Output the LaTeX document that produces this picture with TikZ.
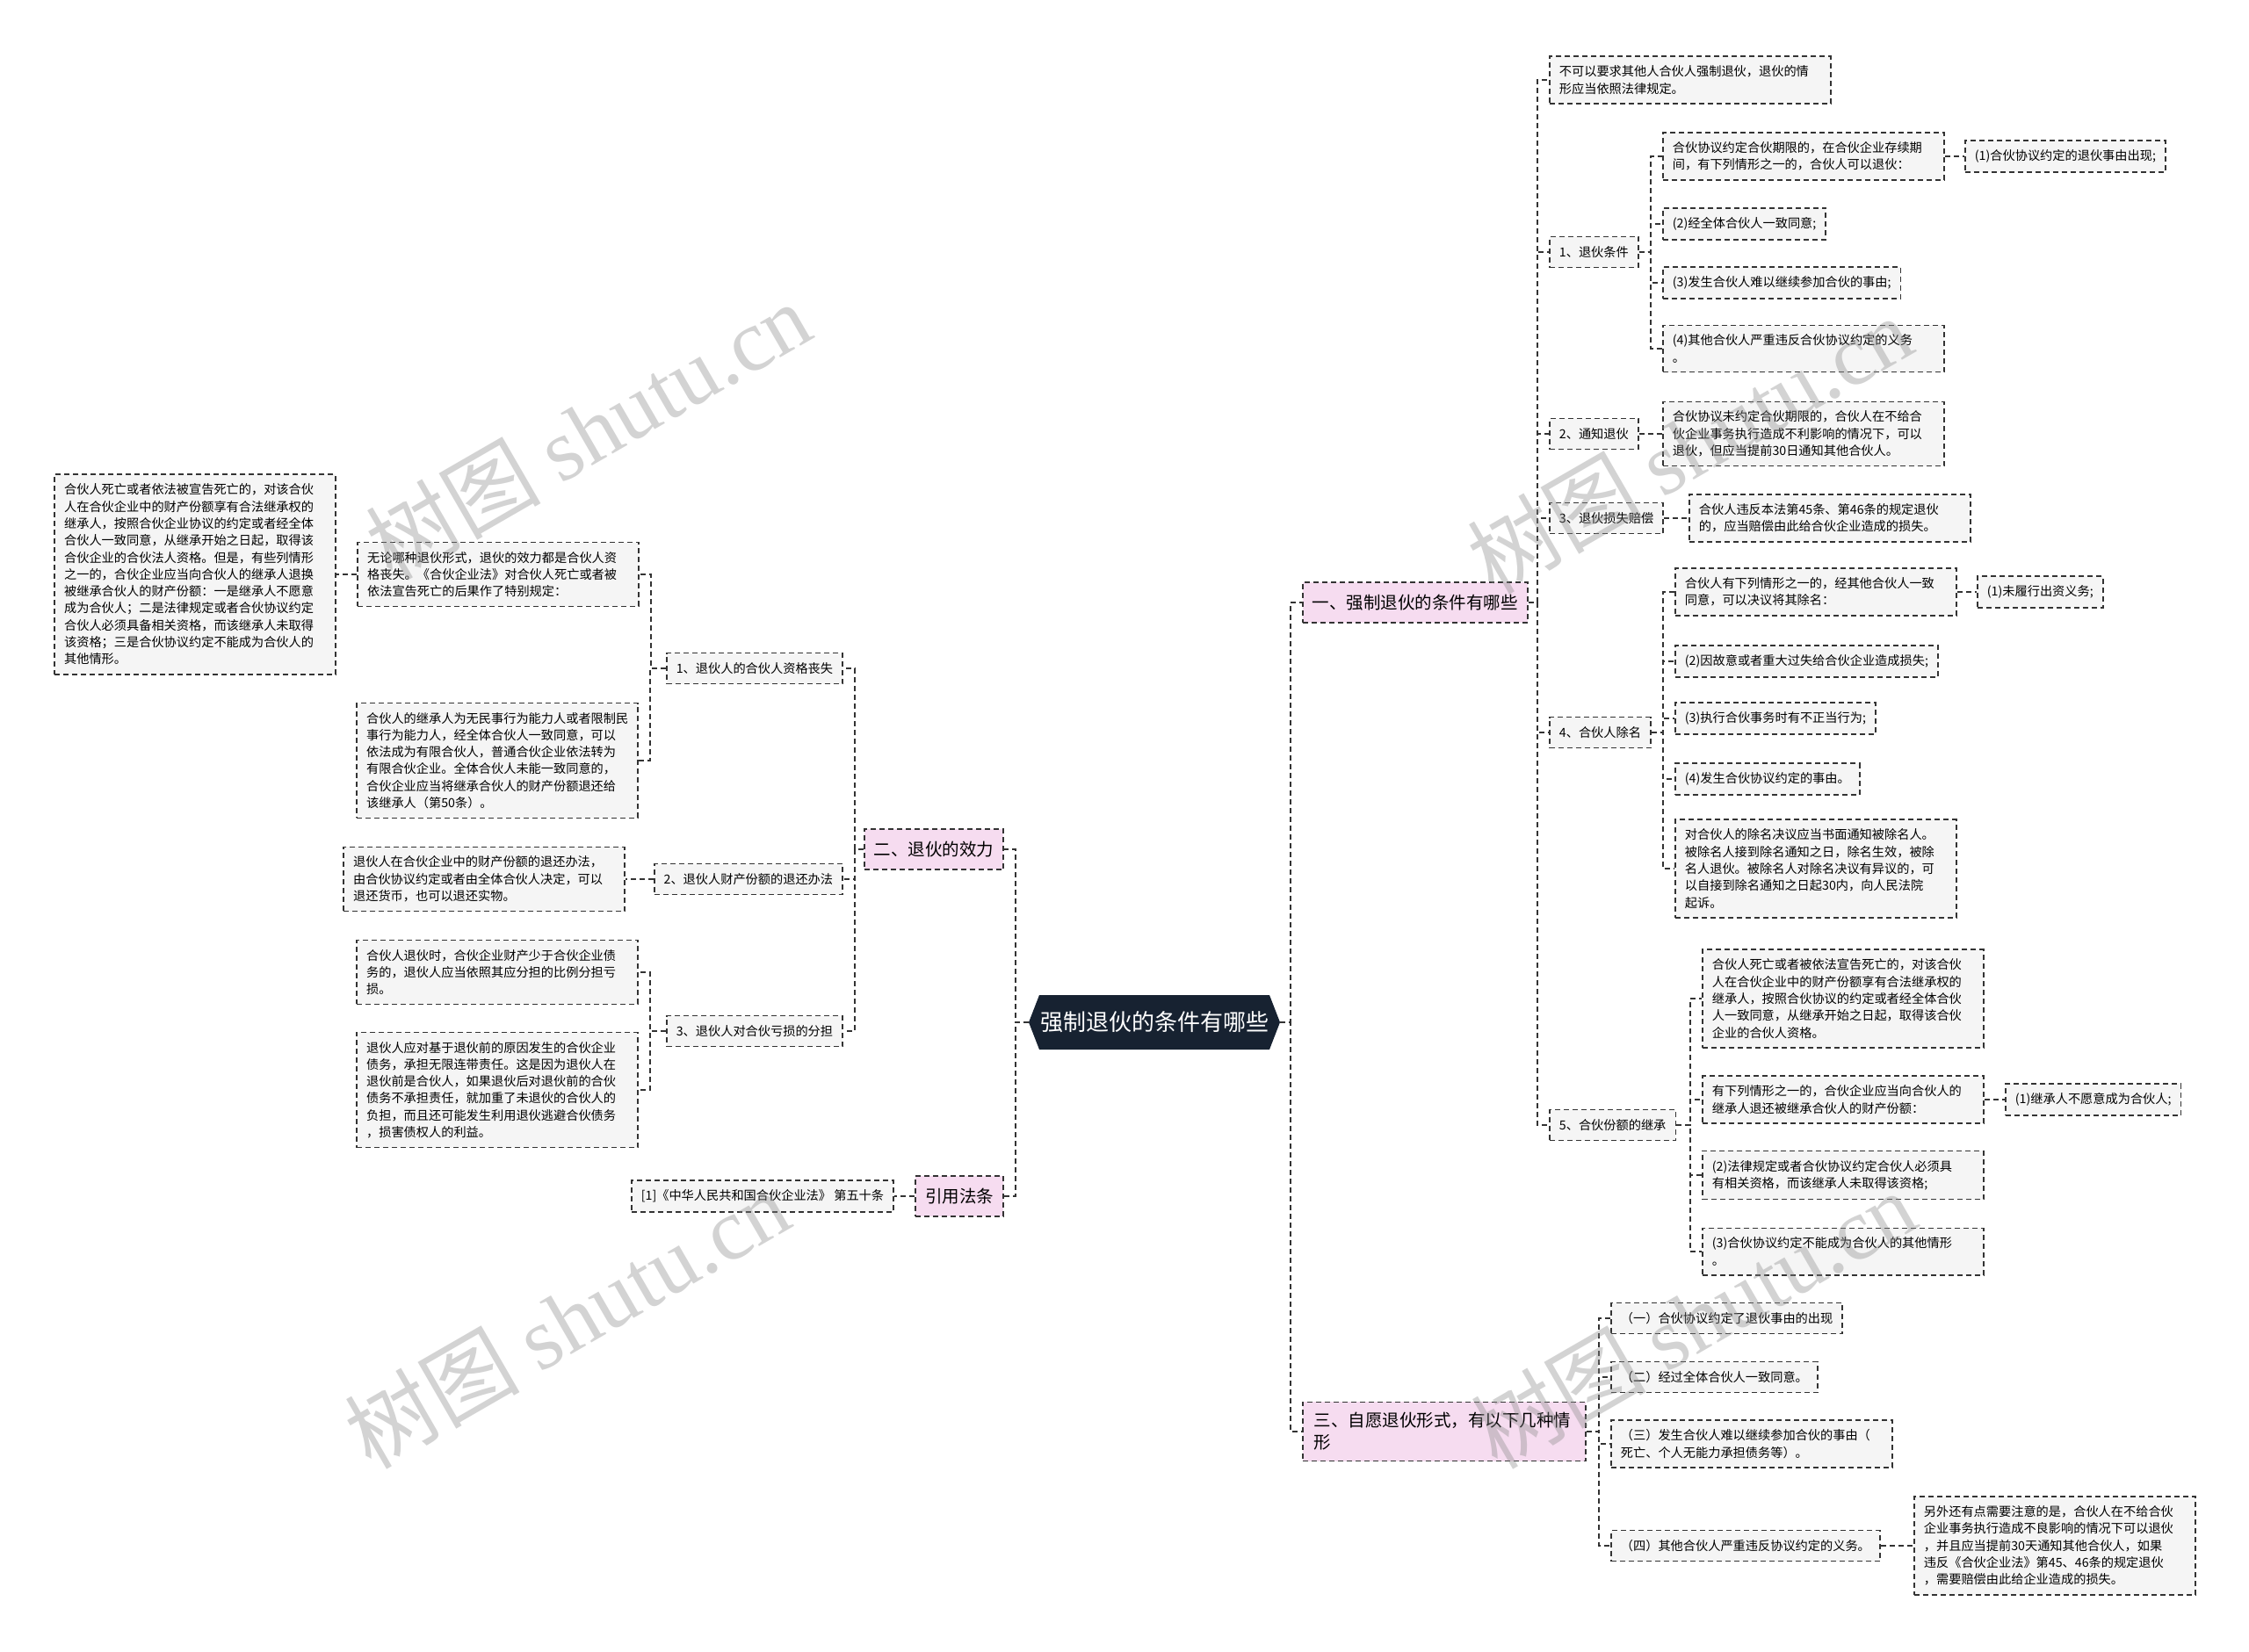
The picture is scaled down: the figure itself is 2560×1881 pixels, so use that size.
\documentclass[tikz,border=0pt]{standalone}
\usepackage{fontspec}
\setmainfont{Noto Sans CJK SC}
\newfontfamily\wmserif{Liberation Serif}
\usetikzlibrary{calc}
\definecolor{bordc}{RGB}{51,51,51}
\definecolor{leaffill}{RGB}{245,245,245}
\definecolor{pinkfill}{RGB}{246,220,240}
\definecolor{navy}{RGB}{23,34,49}
\definecolor{wmgray}{RGB}{140,140,140}
\tikzset{
 dashline/.style={draw=bordc, line width=1.8pt, dash pattern=on 6pt off 4pt},
 leaf/.style={dashline, fill=leaffill, font=\fontsize{14.2}{19.3}\selectfont, align=left, inner xsep=11pt, inner ysep=10.5pt, minimum height=35pt},
 para/.style={leaf, text width=298pt},
 rleaf/.style={leaf, anchor=west},
 lleaf/.style={leaf, anchor=east},
 rpara/.style={para, anchor=west},
 lpara/.style={para, anchor=east},
 branch/.style={dashline, fill=pinkfill, font=\fontsize{19.5}{25}\selectfont, align=left, inner xsep=11pt, inner ysep=12pt, minimum height=46pt},
 conn/.style={dashline},
 wm/.style={text=wmgray, opacity=0.38, rotate=30, font=\fontsize{100}{100}\selectfont, inner sep=0pt}
}
\newcommand{\myrc}[2]{\draw[conn] (#1.east) -- ($(#1.east -| #2.west)+(-13,0)$) |- (#2.west);}
\newcommand{\mylc}[2]{\draw[conn] (#1.west) -- ($(#1.west -| #2.east)+(13,0)$) |- (#2.east);}
\newcommand{\myhr}[2]{\draw[conn] (#1.east) -- (#2.west);}
\newcommand{\myhl}[2]{\draw[conn] (#1.west) -- (#2.east);}
\begin{document}
\begin{tikzpicture}[x=1pt,y=-1pt]
\useasboundingbox (0,0) rectangle (2560,1881);
\fill[white] (0,0) rectangle (2560,1881);

% root
\fill[navy] (1171,1164) -- (1183,1133) -- (1445,1133) -- (1457,1164) -- (1445,1195) -- (1183,1195) -- cycle;
\node[font=\fontsize{26}{30}\selectfont, text=white, minimum width=286pt, minimum height=62pt, inner sep=0pt] (root) at (1314,1164) {强制退伙的条件有哪些};

% right branches
\node[branch, anchor=west] (one) at (1482,686) {一、强制退伙的条件有哪些};
\node[branch, anchor=west, text width=296pt, inner xsep=13pt] (three) at (1482,1630) {三、自愿退伙形式，有以下几种情\\形};

\node[rpara] (a1) at (1763,91) {不可以要求其他人合伙人强制退伙，退伙的情\\形应当依照法律规定。};
\node[rleaf] (b1) at (1763,287) {1、退伙条件};
\node[rleaf] (b2) at (1763,494) {2、通知退伙};
\node[rleaf] (b3) at (1763,590) {3、退伙损失赔偿};
\node[rleaf] (b4) at (1763,834) {4、合伙人除名};
\node[rleaf] (b5) at (1763,1281) {5、合伙份额的继承};

\node[rpara] (b1a) at (1892,178) {合伙协议约定合伙期限的，在合伙企业存续期\\间，有下列情形之一的，合伙人可以退伙：};
\node[rleaf] (b1a1) at (2236,178) {(1)合伙协议约定的退伙事由出现;};
\node[rleaf] (b1b) at (1892,255) {(2)经全体合伙人一致同意;};
\node[rleaf] (b1c) at (1892,322) {(3)发生合伙人难以继续参加合伙的事由;};
\node[rpara] (b1d) at (1892,397) {(4)其他合伙人严重违反合伙协议约定的义务\\。};

\node[rpara] (b2a) at (1892,494) {合伙协议未约定合伙期限的，合伙人在不给合\\伙企业事务执行造成不利影响的情况下，可以\\退伙，但应当提前30日通知其他合伙人。};
\node[rpara] (b3a) at (1922,590) {合伙人违反本法第45条、第46条的规定退伙\\的，应当赔偿由此给合伙企业造成的损失。};

\node[rpara] (b4a) at (1906,674) {合伙人有下列情形之一的，经其他合伙人一致\\同意，可以决议将其除名：};
\node[rleaf] (b4a1) at (2250,674) {(1)未履行出资义务;};
\node[rleaf] (b4b) at (1906,753) {(2)因故意或者重大过失给合伙企业造成损失;};
\node[rleaf] (b4c) at (1906,818) {(3)执行合伙事务时有不正当行为;};
\node[rleaf] (b4d) at (1906,887) {(4)发生合伙协议约定的事由。};
\node[rpara] (b4e) at (1906,989) {对合伙人的除名决议应当书面通知被除名人。\\被除名人接到除名通知之日，除名生效，被除\\名人退伙。被除名人对除名决议有异议的，可\\以自接到除名通知之日起30内，向人民法院\\起诉。};

\node[rpara] (b5a) at (1937,1137) {合伙人死亡或者被依法宣告死亡的，对该合伙\\人在合伙企业中的财产份额享有合法继承权的\\继承人，按照合伙协议的约定或者经全体合伙\\人一致同意，从继承开始之日起，取得该合伙\\企业的合伙人资格。};
\node[rpara] (b5b) at (1937,1252) {有下列情形之一的，合伙企业应当向合伙人的\\继承人退还被继承合伙人的财产份额：};
\node[rleaf] (b5b1) at (2282,1252) {(1)继承人不愿意成为合伙人;};
\node[rpara] (b5c) at (1937,1338) {(2)法律规定或者合伙协议约定合伙人必须具\\有相关资格，而该继承人未取得该资格;};
\node[rpara] (b5d) at (1937,1425) {(3)合伙协议约定不能成为合伙人的其他情形\\。};

\node[rleaf] (c1) at (1833,1501) {（一）合伙协议约定了退伙事由的出现};
\node[rleaf] (c2) at (1833,1568) {（二）经过全体合伙人一致同意。};
\node[rpara] (c3) at (1833,1644) {（三）发生合伙人难以继续参加合伙的事由（\\死亡、个人无能力承担债务等）。};
\node[rleaf] (c4) at (1833,1760) {（四）其他合伙人严重违反协议约定的义务。};
\node[rpara] (c4a) at (2178,1760) {另外还有点需要注意的是，合伙人在不给合伙\\企业事务执行造成不良影响的情况下可以退伙\\，并且应当提前30天通知其他合伙人，如果\\违反《合伙企业法》第45、46条的规定退伙\\，需要赔偿由此给企业造成的损失。};

% left branches
\node[branch, anchor=east] (two) at (1143,967) {二、退伙的效力};
\node[branch, anchor=east] (cite) at (1143,1362) {引用法条};

\node[lleaf] (d1) at (960,761) {1、退伙人的合伙人资格丧失};
\node[lleaf] (d2) at (960,1001) {2、退伙人财产份额的退还办法};
\node[lleaf] (d3) at (960,1174) {3、退伙人对合伙亏损的分担};

\node[lpara] (d1a) at (728,654) {无论哪种退伙形式，退伙的效力都是合伙人资\\格丧失。《合伙企业法》对合伙人死亡或者被\\依法宣告死亡的后果作了特别规定：};
\node[lpara] (d1a1) at (383,654) {合伙人死亡或者依法被宣告死亡的，对该合伙\\人在合伙企业中的财产份额享有合法继承权的\\继承人，按照合伙企业协议的约定或者经全体\\合伙人一致同意，从继承开始之日起，取得该\\合伙企业的合伙法人资格。但是，有些列情形\\之一的，合伙企业应当向合伙人的继承人退换\\被继承合伙人的财产份额：一是继承人不愿意\\成为合伙人；二是法律规定或者合伙协议约定\\合伙人必须具备相关资格，而该继承人未取得\\该资格；三是合伙协议约定不能成为合伙人的\\其他情形。};
\node[lpara] (d1b) at (727,866) {合伙人的继承人为无民事行为能力人或者限制民\\事行为能力人，经全体合伙人一致同意，可以\\依法成为有限合伙人，普通合伙企业依法转为\\有限合伙企业。全体合伙人未能一致同意的，\\合伙企业应当将继承合伙人的财产份额退还给\\该继承人（第50条）。};
\node[lpara] (d2a) at (712,1001) {退伙人在合伙企业中的财产份额的退还办法，\\由合伙协议约定或者由全体合伙人决定，可以\\退还货币，也可以退还实物。};
\node[lpara] (d3a) at (727,1107) {合伙人退伙时，合伙企业财产少于合伙企业债\\务的，退伙人应当依照其应分担的比例分担亏\\损。};
\node[lpara] (d3b) at (727,1241) {退伙人应对基于退伙前的原因发生的合伙企业\\债务，承担无限连带责任。这是因为退伙人在\\退伙前是合伙人，如果退伙后对退伙前的合伙\\债务不承担责任，就加重了未退伙的合伙人的\\负担，而且还可能发生利用退伙逃避合伙债务\\，损害债权人的利益。};
\node[lleaf] (e1) at (1018,1362) {[1]《中华人民共和国合伙企业法》 第五十条};

% connectors
\myrc{root}{one} \myrc{root}{three}
\myrc{one}{a1} \myrc{one}{b1} \myrc{one}{b2} \myrc{one}{b3} \myrc{one}{b4} \myrc{one}{b5}
\myrc{b1}{b1a} \myrc{b1}{b1b} \myrc{b1}{b1c} \myrc{b1}{b1d} \myhr{b1a}{b1a1}
\myrc{b2}{b2a} \myrc{b3}{b3a}
\myrc{b4}{b4a} \myrc{b4}{b4b} \myrc{b4}{b4c} \myrc{b4}{b4d} \myrc{b4}{b4e} \myhr{b4a}{b4a1}
\myrc{b5}{b5a} \myrc{b5}{b5b} \myrc{b5}{b5c} \myrc{b5}{b5d} \myhr{b5b}{b5b1}
\myrc{three}{c1} \myrc{three}{c2} \myrc{three}{c3} \myrc{three}{c4} \myhr{c4}{c4a}
\mylc{root}{two} \mylc{root}{cite}
\mylc{two}{d1} \mylc{two}{d2} \mylc{two}{d3}
\mylc{d1}{d1a} \mylc{d1}{d1b} \myhl{d1a}{d1a1}
\mylc{d2}{d2a}
\mylc{d3}{d3a} \mylc{d3}{d3b}
\myhl{cite}{e1}

% watermarks
\node[wm] (wm1) at (669,490) {树图 {\wmserif shutu.cn}};
\node[wm] (wm2) at (1923,506) {树图 {\wmserif shutu.cn}};
\node[wm] (wm3) at (645,1502) {树图 {\wmserif shutu.cn}};
\node[wm] (wm4) at (1927,1502) {树图 {\wmserif shutu.cn}};
\end{tikzpicture}
\end{document}
